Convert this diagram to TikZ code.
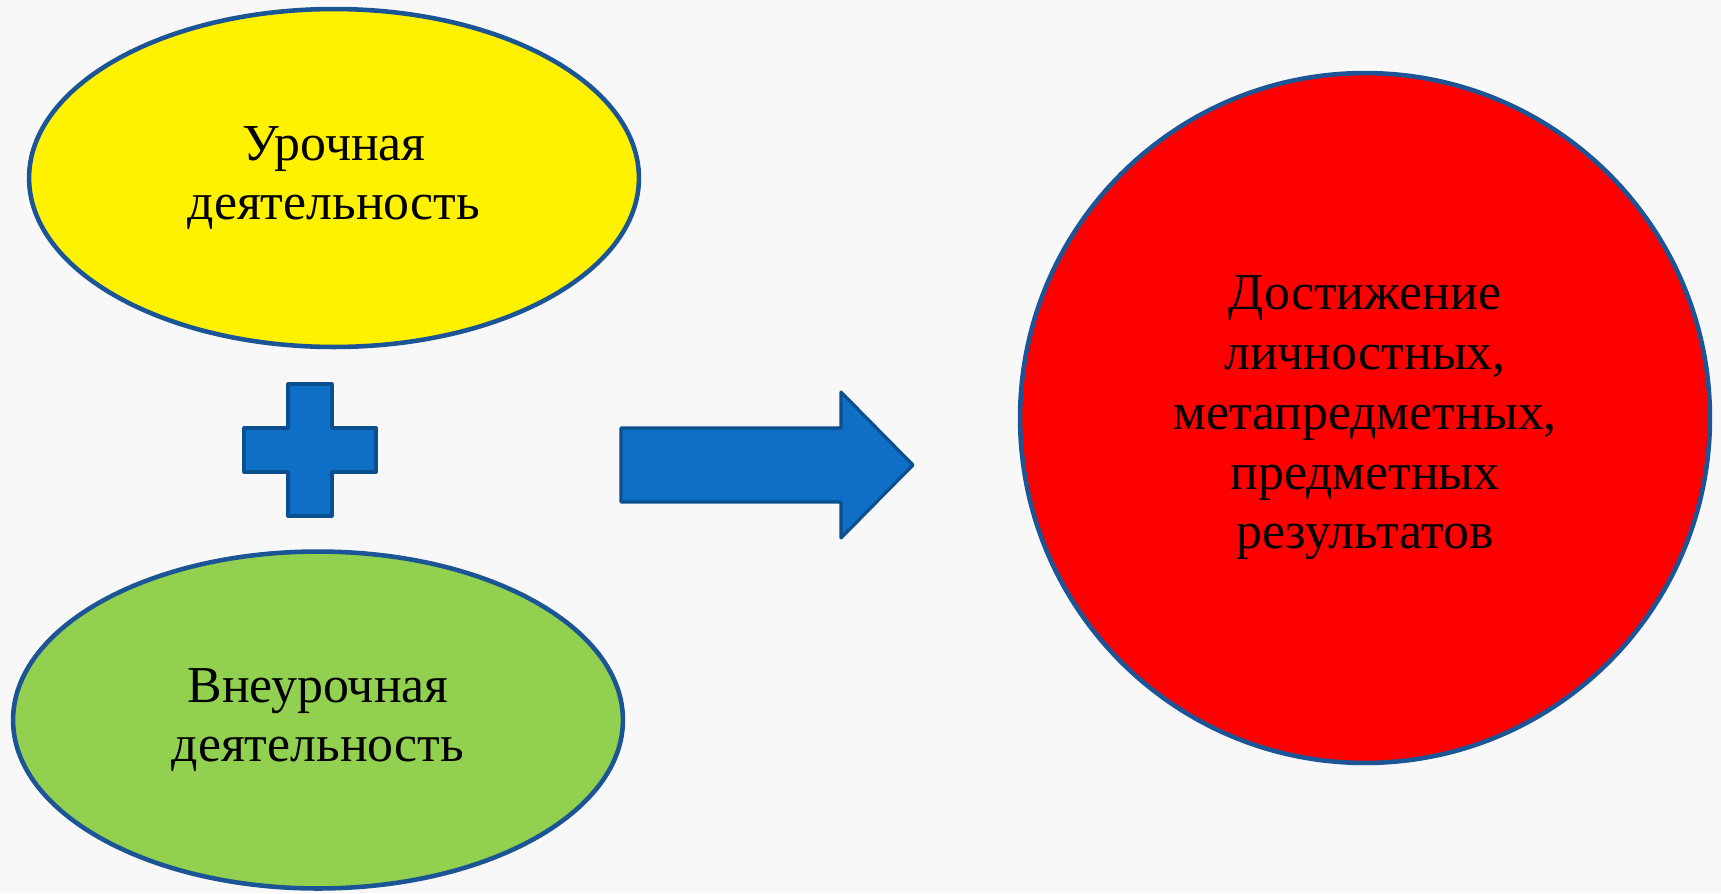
\documentclass[tikz,border=0pt]{standalone}
\usepackage{fontspec}
\setmainfont{Liberation Serif}
\usetikzlibrary{shapes.geometric}

\definecolor{edgeblue}{HTML}{1B5596}
\definecolor{fillblue}{HTML}{0F6FC6}
\definecolor{darkblue}{HTML}{0B4F8E}
\definecolor{lightgreen}{HTML}{92D050}
\definecolor{backdrop}{HTML}{F8F8F8}

\begin{document}
\begin{tikzpicture}[x = 0.02cm, y = -0.02cm,
	bubble/.style = {ellipse, draw = edgeblue, line width = 2.6pt, inner sep = 0pt, align = center, font = \fontsize{29.5}{34}\selectfont},
	symbol/.style = {fill = fillblue, draw = darkblue, line width = 1.8pt, line join = round}]

	% Definitions
	
	\def\W{1721}	% Picture width
	\def\H{893}		% Picture height
	\def\a{22}		% Half width of a plus arm
	\def\b{66}		% Half length of a plus arm
	
	% Background
	
	\fill [backdrop] (0, 0) rectangle (\W, \H);
	\useasboundingbox (0, 0) rectangle (\W, \H);
	
	% Lesson and out-of-lesson activity
	
	\node [bubble, fill = yellow, minimum width = 12.2cm, minimum height = 6.76cm] (urok) at (334, 178) {Урочная\\деятельность};
	\node [bubble, fill = lightgreen, minimum width = 12.2cm, minimum height = 6.74cm] (vneurok) at (318, 720) {Внеурочная\\деятельность};
	
	% Results
	
	\node [bubble, circle, fill = red, minimum size = 13.8cm] (itog) at (1365, 418) {Достижение\\личностных,\\метапредметных,\\предметных\\результатов};
	
	% Plus sign
	
	\draw [symbol, shift = {(310, 450)}] (-\a, -\b) -- (\a, -\b) -- (\a, -\a) -- (\b, -\a) -- (\b, \a) -- (\a, \a) -- (\a, \b) -- (-\a, \b) -- (-\a, \a) -- (-\b, \a) -- (-\b, -\a) -- (-\a, -\a) -- cycle;
	
	% Block arrow
	
	\draw [symbol, shift = {(621, 465)}] (0, -37) -- (220, -37) -- (220, -73) -- (292, 0) -- (220, 73) -- (220, 37) -- (0, 37) -- cycle;

\end{tikzpicture}
\end{document}
